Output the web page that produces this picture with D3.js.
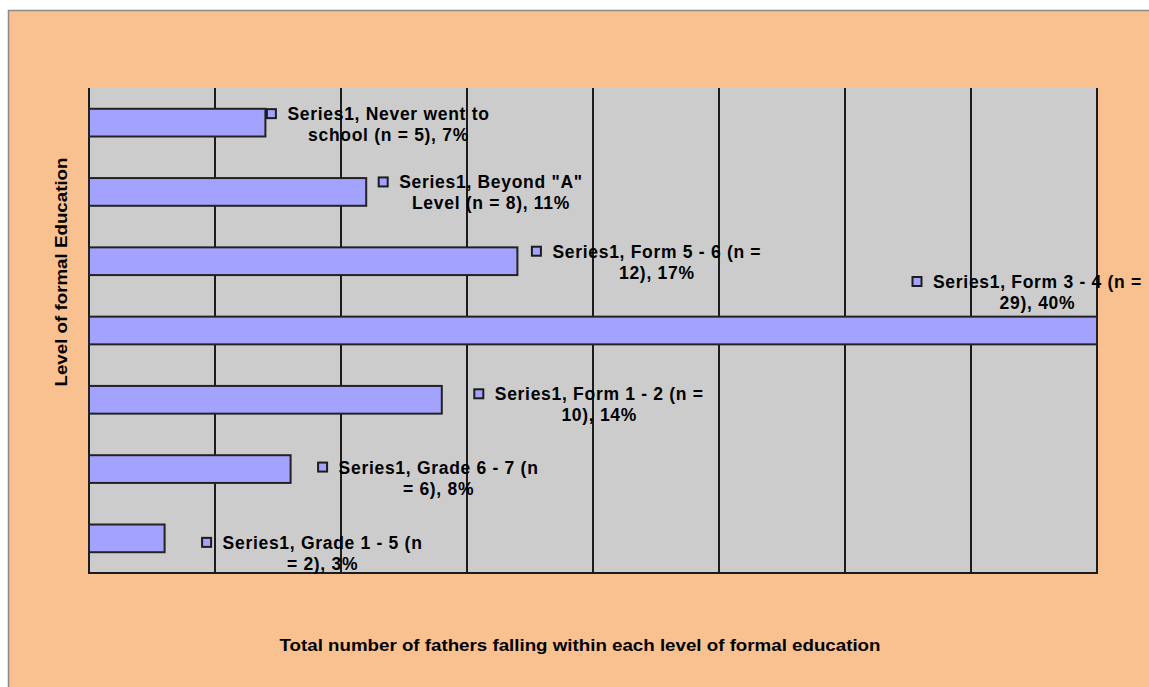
<!DOCTYPE html>
<html>
<head>
<meta charset="utf-8">
<script src="https://cdn.jsdelivr.net/npm/d3@7"></script>
<style>
  body { margin: 0; background: #fff; }
  svg text { font-family: "Liberation Sans", Arial, sans-serif; font-weight: bold; fill: #000; }
</style>
</head>
<body>
<div id="chart"></div>
<script>
// Data
var categories = ["Never went to school", "Beyond \"A\" Level", "Form 5 - 6", "Form 3 - 4", "Form 1 - 2", "Grade 6 - 7", "Grade 1 - 5"];
var counts = [5, 8, 12, 29, 10, 6, 2];
var percents = [7, 11, 17, 40, 14, 8, 3];
var xTicks = [0, 5, 10, 15, 20, 25, 30, 35, 40];
// words on first line of each data label
var firstLineWords = [4, 3, 7, 7, 7, 6, 6];

// label placement (marker left relative to bar end, marker centre relative to bar centre)
var labelDx = [1, 12, 14, -185, 32, 27, 37];
var labelDy = [-9, -10, -10, -49, -6, -2, 4];

// Chart parameters
var svgWidth = 1149;
var svgHeight = 687;
var plot = { left: 89, right: 1097, top: 88, bottom: 573 };

var svg = d3.select("#chart")
  .append("svg")
  .attr("width", svgWidth)
  .attr("height", svgHeight);

// outer frame
svg.append("rect")
  .attr("x", 8.5).attr("y", 10.5)
  .attr("width", 1200).attr("height", 700)
  .attr("fill", "#F9C190")
  .attr("stroke", "#8a8a8a")
  .attr("stroke-width", 1.5);

// plot area
svg.append("rect")
  .attr("x", plot.left).attr("y", plot.top)
  .attr("width", plot.right - plot.left).attr("height", plot.bottom - plot.top)
  .attr("fill", "#CCCCCC");

var xScale = d3.scaleLinear()
  .domain([0, 40])
  .range([plot.left, plot.right]);

var yScale = d3.scaleBand()
  .domain(categories)
  .range([plot.top, plot.bottom])
  .paddingInner(0.6)
  .paddingOuter(0.3);

// gridlines
svg.append("g")
  .selectAll("line")
  .data(xTicks)
  .enter()
  .append("line")
  .attr("x1", d => xScale(d)).attr("x2", d => xScale(d))
  .attr("y1", plot.top).attr("y2", plot.bottom)
  .attr("stroke", "#1c1c1c")
  .attr("stroke-width", 2);

svg.append("line")
  .attr("x1", plot.left - 1).attr("x2", plot.right + 1)
  .attr("y1", plot.bottom).attr("y2", plot.bottom)
  .attr("stroke", "#1c1c1c")
  .attr("stroke-width", 2);

// bars
svg.append("g")
  .selectAll("rect")
  .data(categories)
  .enter()
  .append("rect")
  .attr("x", xScale(0))
  .attr("y", d => yScale(d))
  .attr("width", (d, i) => xScale(percents[i]) - xScale(0))
  .attr("height", yScale.bandwidth())
  .attr("fill", "#A3A3FF")
  .attr("stroke", "#222")
  .attr("stroke-width", 2);

// data labels
var labels = svg.append("g")
  .selectAll("g")
  .data(categories)
  .enter()
  .append("g")
  .attr("transform", (d, i) => {
    var x = xScale(percents[i]) + labelDx[i];
    var y = yScale(d) + yScale.bandwidth() / 2 + labelDy[i];
    return `translate(${x}, ${y})`;
  });

labels.append("rect")
  .attr("x", 0.5).attr("y", -4.5)
  .attr("width", 9).attr("height", 9)
  .attr("fill", "#A3A3FF")
  .attr("stroke", "#1c1c1c")
  .attr("stroke-width", 2);

labels.each(function(d, i) {
  var g = d3.select(this);
  var words = `Series1, ${d} (n = ${counts[i]}), ${percents[i]}%`.split(" ");
  var line1 = words.slice(0, firstLineWords[i]).join(" ");
  var line2 = words.slice(firstLineWords[i]).join(" ");
  var t1 = g.append("text")
    .attr("x", 21)
    .attr("y", 6.5)
    .style("font-size", "17.5px")
    .style("letter-spacing", "0.7px")
    .text(line1);
  var w = t1.node().getComputedTextLength();
  g.append("text")
    .attr("x", 21 + w / 2)
    .attr("y", 27.5)
    .attr("text-anchor", "middle")
    .style("font-size", "17.5px")
    .style("letter-spacing", "0.7px")
    .text(line2);
});

// axis titles
svg.append("text")
  .attr("x", 580)
  .attr("y", 651)
  .attr("text-anchor", "middle")
  .attr("textLength", 601)
  .attr("lengthAdjust", "spacingAndGlyphs")
  .style("font-size", "17px")
  .text("Total number of fathers falling within each level of formal education");

svg.append("text")
  .attr("transform", "translate(67, 272) rotate(-90)")
  .attr("text-anchor", "middle")
  .attr("textLength", 229)
  .attr("lengthAdjust", "spacingAndGlyphs")
  .style("font-size", "17px")
  .text("Level of formal Education");
</script>
</body>
</html>
